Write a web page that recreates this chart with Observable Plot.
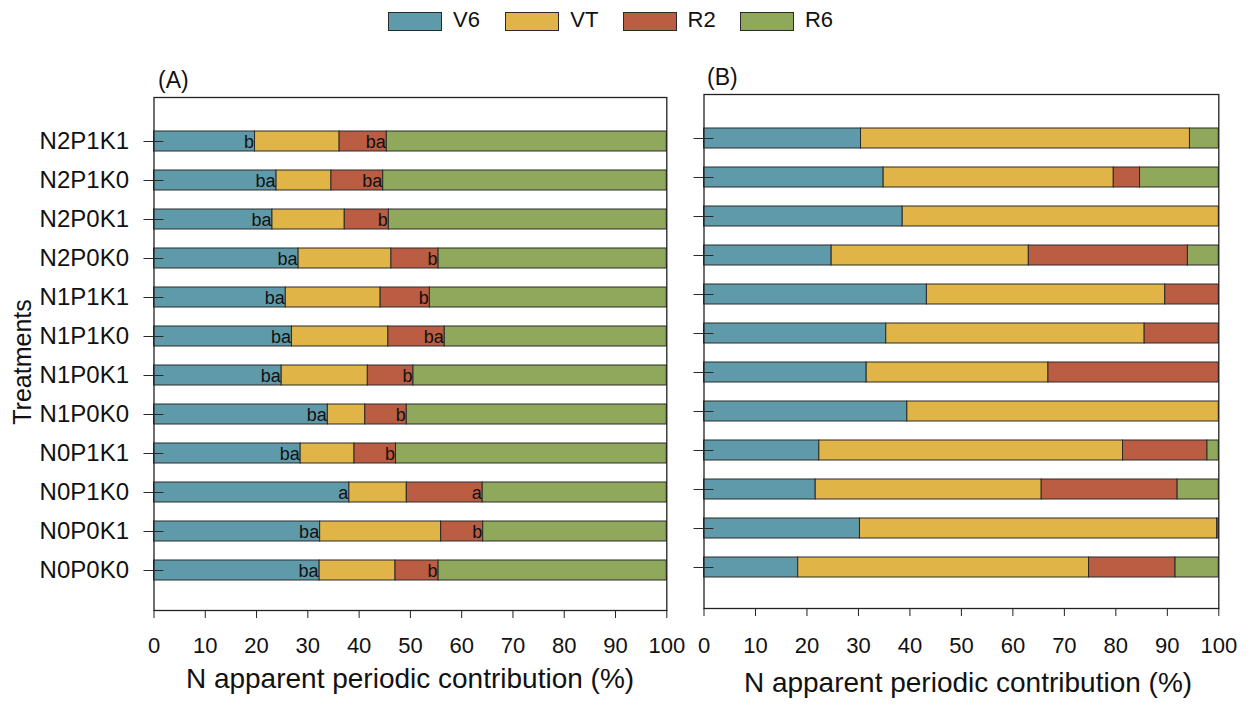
<!DOCTYPE html>
<html>
<head>
<meta charset="utf-8">
<script src="https://cdn.jsdelivr.net/npm/d3@7"></script>
<script src="https://cdn.jsdelivr.net/npm/@observablehq/plot@0.6"></script>
<style>
  body { margin: 0; background: #fff; font-family: "Liberation Sans", Arial, sans-serif; }
  #chart { position: relative; width: 1254px; height: 713px; overflow: hidden; background: #fff; }
  #chart svg { position: absolute; top: 0; }
  .lab { position: absolute; white-space: nowrap; color: #111; line-height: 1; }
  .sw { position: absolute; box-sizing: border-box; border: 1px solid #2a2a2a; }
</style>
</head>
<body>
<div id="chart"></div>
<script>
// Treatments, listed top to bottom
const treatments = [
  "N2P1K1", "N2P1K0", "N2P0K1", "N2P0K0",
  "N1P1K1", "N1P1K0", "N1P0K1", "N1P0K0",
  "N0P1K1", "N0P1K0", "N0P0K1", "N0P0K0"
];

// Growth stages and their colours
const stages = ["V6", "VT", "R2", "R6"];
const stageColors = ["#5f9aaa", "#e0b446", "#ba5d42", "#8fa85c"];

// Panel (A): N apparent periodic contribution (%) per stage
const aV6 = [19.7, 23.9, 23.1, 28.2, 25.7, 26.9, 24.9, 33.9, 28.6, 38.1, 32.4, 32.3];
const aVT = [16.5, 10.7, 14.1, 18.1, 18.5, 18.8, 16.8, 7.3, 10.5, 11.2, 23.6, 14.8];
const aR2 = [9.2, 10.1, 8.6, 9.2, 9.6, 11.0, 8.9, 8.1, 8.1, 14.8, 8.2, 8.4];
const aR6 = [54.6, 55.3, 54.2, 44.5, 46.2, 43.3, 49.4, 50.7, 52.8, 35.9, 35.8, 44.5];

// Significance letters shown at the end of the V6 and R2 segments in panel (A)
const aV6Letters = ["b", "ba", "ba", "ba", "ba", "ba", "ba", "ba", "ba", "a", "ba", "ba"];
const aR2Letters = ["ba", "ba", "b", "b", "b", "ba", "b", "b", "b", "a", "b", "b"];

// Panel (B): N apparent periodic contribution (%) per stage
const bV6 = [30.5, 34.9, 38.6, 24.8, 43.3, 35.4, 31.6, 39.5, 22.4, 21.7, 30.3, 18.3];
const bVT = [63.9, 44.7, 61.4, 38.3, 46.3, 50.2, 35.3, 60.5, 59.0, 43.9, 69.4, 56.5];
const bR2 = [0, 5.1, 0, 30.9, 10.4, 14.4, 33.1, 0, 16.4, 26.4, 0.3, 16.8];
const bR6 = [5.6, 15.3, 0, 6.0, 0, 0, 0, 0, 2.2, 8.0, 0, 8.4];

function tidy(series, letters) {
  return treatments.flatMap((t, i) =>
    stages.map((s, j) => ({
      treatment: t,
      stage: s,
      value: series[j][i],
      label: letters && letters[j] ? letters[j][i] : ""
    }))
  );
}

const rowsA = tidy([aV6, aVT, aR2, aR6], [aV6Letters, null, aR2Letters, null]);
const rowsB = tidy([bV6, bVT, bR2, bR6], null);

const FONT = "'Liberation Sans', Arial, sans-serif";

function panel({rows, width, marginLeft, marginRight, marginTop, marginBottom, tickLabels, letters, tickPadX}) {
  return Plot.plot({
    width,
    height: 713,
    marginLeft, marginRight, marginTop, marginBottom,
    style: {fontFamily: FONT, fontSize: "22px", color: "#111", background: "transparent", overflow: "visible"},
    x: {domain: [0, 100]},
    y: {domain: treatments, paddingInner: 0.494, paddingOuter: 0.73, align: 0.526},
    color: {domain: stages, range: stageColors},
    marks: [
      Plot.barX(rows, Plot.stackX({
        x: "value", y: "treatment", fill: "stage", order: stages,
        stroke: "#2a2a2a", strokeWidth: 1
      })),
      letters ? Plot.textX(rows, Plot.stackX2({
        x: "value", y: "treatment", z: "stage", order: stages, text: "label",
        textAnchor: "end", dx: -1, dy: 1, fontSize: 18, fill: "#111"
      })) : null,
      Plot.frame({stroke: "#222", strokeWidth: 1.3}),
      Plot.axisX({
        ticks: d3.range(0, 101, 10), tickSize: 8, tickPadding: tickPadX,
        label: null, fontSize: 22, stroke: "#222"
      }),
      Plot.axisY({
        tickSize: 20, dx: 10, tickPadding: 15, label: null, fontSize: 24,
        stroke: "#2a2a2a", tickFormat: tickLabels ? (d) => d : () => ""
      })
    ]
  });
}

const chart = document.getElementById("chart");

const svgA = panel({
  rows: rowsA, width: 680, marginLeft: 153.5, marginRight: 13.7,
  marginTop: 97, marginBottom: 103, tickLabels: true, letters: true, tickPadX: 19
});
svgA.style.left = "0px";
chart.appendChild(svgA);

const svgB = panel({
  rows: rowsB, width: 574, marginLeft: 23.5, marginRight: 35.7,
  marginTop: 94, marginBottom: 105, tickLabels: false, letters: false, tickPadX: 21
});
svgB.style.left = "680px";
chart.appendChild(svgB);

function addLabel(text, css) {
  const d = document.createElement("div");
  d.className = "lab";
  d.textContent = text;
  Object.assign(d.style, css);
  chart.appendChild(d);
  return d;
}

// Legend above both panels
stages.forEach((s, i) => {
  const left = 388 + i * 117.3;
  const sw = document.createElement("div");
  sw.className = "sw";
  Object.assign(sw.style, {left: left + "px", top: "12px", width: "54px", height: "19px", background: stageColors[i]});
  chart.appendChild(sw);
  addLabel(s, {left: (left + 65) + "px", top: "9px", fontSize: "22px"});
});

// Panel tags
addLabel("(A)", {left: "158px", top: "68.5px", fontSize: "23px"});
addLabel("(B)", {left: "707px", top: "65.5px", fontSize: "23px"});

// Axis titles
addLabel("N apparent periodic contribution (%)", {left: "410px", top: "665px", fontSize: "28px", transform: "translateX(-50%)"});
addLabel("N apparent periodic contribution (%)", {left: "968px", top: "669px", fontSize: "28px", transform: "translateX(-50%)"});
addLabel("Treatments", {left: "22px", top: "362px", fontSize: "25px", transform: "translate(-50%, -50%) rotate(-90deg)"});
</script>
</body>
</html>
